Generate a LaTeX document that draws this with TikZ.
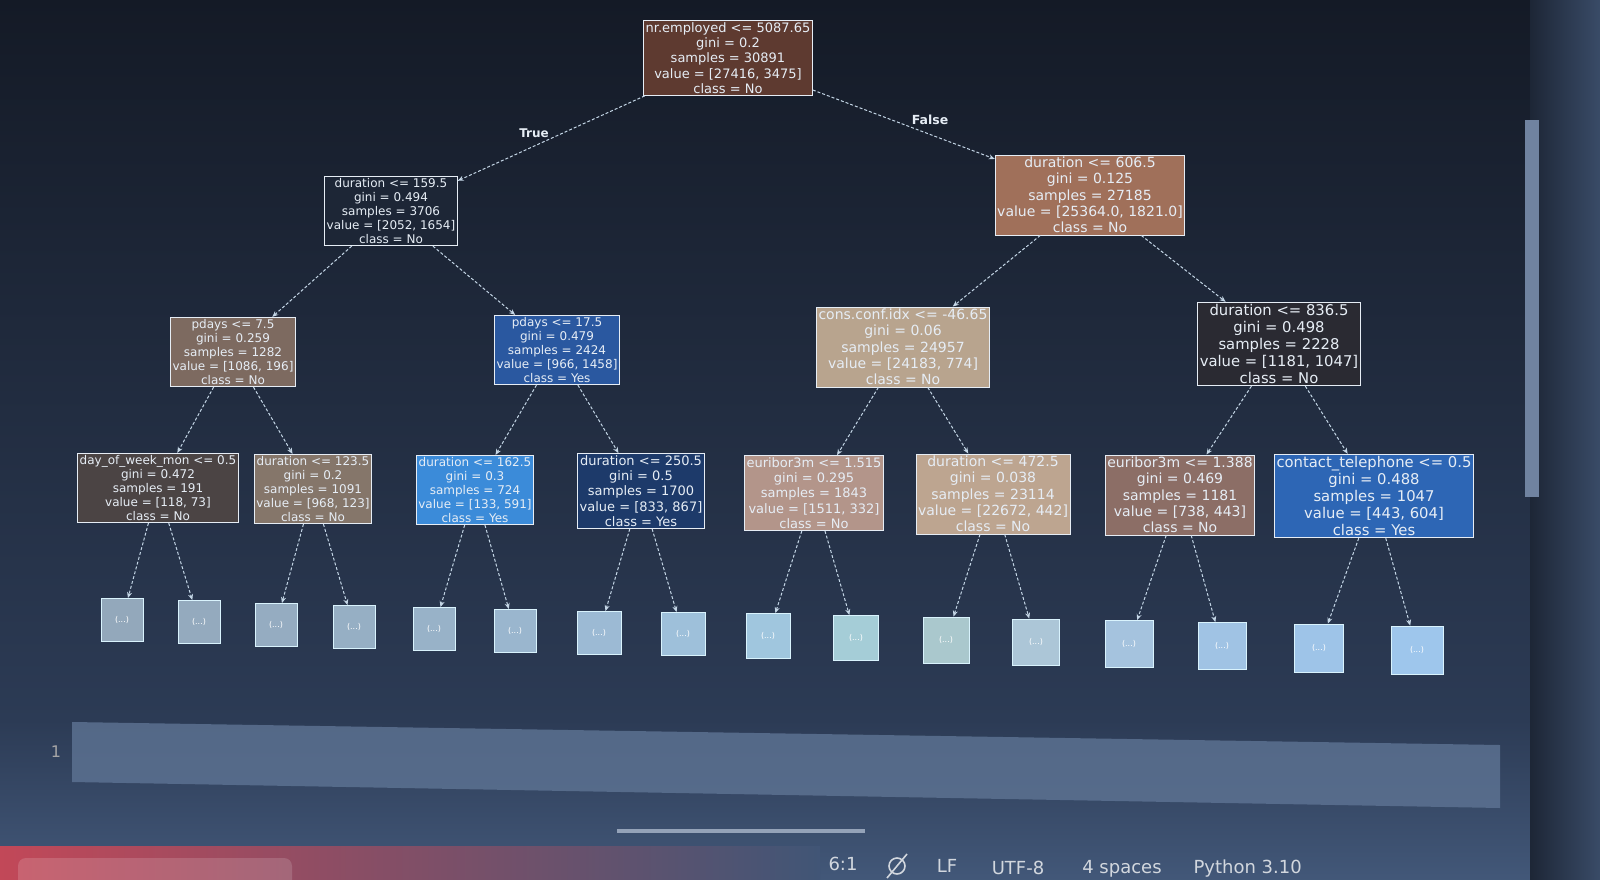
\documentclass[tikz,border=0pt]{standalone}
\usepackage{fontspec}
\setmainfont{DejaVu Sans}
\usetikzlibrary{arrows.meta}

\definecolor{bgtop}{HTML}{141A26}
\definecolor{bgmid}{HTML}{1D2636}
\definecolor{bglow}{HTML}{2C3B55}
\definecolor{celbg}{HTML}{4C6488}
\definecolor{txt}{HTML}{E6EDF5}
\definecolor{edgec}{HTML}{C4D6E6}
\definecolor{taskred}{HTML}{C24858}

\begin{document}
\begin{tikzpicture}[x=1pt, y=-1pt]

\tikzstyle{split} = [rectangle, draw=txt, line width=0.9pt, text=txt, align=center, inner sep=2pt,
  font=\fontsize{12}{14}\selectfont]
\tikzstyle{big} = [font=\fontsize{13}{15.2}\selectfont]
\tikzstyle{bigger} = [font=\fontsize{14}{16.3}\selectfont]
\tikzstyle{biggest} = [font=\fontsize{14.8}{17}\selectfont]
\tikzstyle{leaf} = [rectangle, draw=white!85!cyan, line width=0.8pt, minimum width=42pt, minimum height=43pt,
  text=white, font=\fontsize{8}{9}\selectfont]
\tikzstyle{edge} = [edgec, densely dashed, line width=1pt, -{Stealth[length=6pt, width=5pt]}]
\tikzstyle{bar} = [text=txt!80!gray, font=\fontsize{18}{20}\selectfont]

% screen
\useasboundingbox (0,0) rectangle (1600,880);
\shade[top color=bgtop, bottom color=bglow] (0,0) rectangle (1600,720);
\shade[top color=bglow, bottom color=celbg!70!bglow] (0,720) rectangle (1600,880);
\shade[left color=bgmid, right color=celbg!60!bgmid] (1530,0) rectangle (1600,880);
\fill[celbg!90!white, opacity=0.8] (72,722) -- (1500,745) -- (1500,808) -- (72,782) -- cycle;
\fill[celbg!80!white] (1525,120) rectangle (1539,497);
\fill[celbg!60!white] (617,829) rectangle (865,833);
\shade[left color=taskred, right color=celbg!64!bglow] (0,846) rectangle (820,880);
\fill[white, opacity=0.15, rounded corners=8pt] (18,858) rectangle (292,890);
\node[text=gray!70, font=\fontsize{16}{18}\selectfont] (ln) at (56,752) {1};

% tree
\node[split, big, fill={rgb,255:red,94;green,58;blue,48}] (root) at (728,58)
  {nr.employed <= 5087.65\\gini = 0.2\\samples = 30891\\value = [27416, 3475]\\class = No};

\node[split, fill=bgmid] (l) at (391,211)
  {duration <= 159.5\\gini = 0.494\\samples = 3706\\value = [2052, 1654]\\class = No};
\node[split, bigger, fill={rgb,255:red,160;green,112;blue,90}] (r) at (1090,195)
  {duration <= 606.5\\gini = 0.125\\samples = 27185\\value = [25364.0, 1821.0]\\class = No};

\node[split, fill={rgb,255:red,125;green,106;blue,96}] (ll) at (233,352)
  {pdays <= 7.5\\gini = 0.259\\samples = 1282\\value = [1086, 196]\\class = No};
\node[split, fill={rgb,255:red,42;green,88;blue,160}] (lr) at (557,350)
  {pdays <= 17.5\\gini = 0.479\\samples = 2424\\value = [966, 1458]\\class = Yes};
\node[split, bigger, fill={rgb,255:red,184;green,164;blue,142}] (rl) at (903,347)
  {cons.conf.idx <= -46.65\\gini = 0.06\\samples = 24957\\value = [24183, 774]\\class = No};
\node[split, biggest, fill={rgb,255:red,42;green,42;blue,50}] (rr) at (1279,344)
  {duration <= 836.5\\gini = 0.498\\samples = 2228\\value = [1181, 1047]\\class = No};

\node[split, fill={rgb,255:red,75;green,68;blue,68}] (lll) at (158,488)
  {day\_of\_week\_mon <= 0.5\\gini = 0.472\\samples = 191\\value = [118, 73]\\class = No};
\node[split, fill={rgb,255:red,133;green,118;blue,106}] (llr) at (313,489)
  {duration <= 123.5\\gini = 0.2\\samples = 1091\\value = [968, 123]\\class = No};
\node[split, fill={rgb,255:red,59;green,139;blue,217}] (lrl) at (475,490)
  {duration <= 162.5\\gini = 0.3\\samples = 724\\value = [133, 591]\\class = Yes};
\node[split, big, fill={rgb,255:red,29;green,58;blue,106}] (lrr) at (641,491)
  {duration <= 250.5\\gini = 0.5\\samples = 1700\\value = [833, 867]\\class = Yes};
\node[split, big, fill={rgb,255:red,179;green,149;blue,138}] (rll) at (814,493)
  {euribor3m <= 1.515\\gini = 0.295\\samples = 1843\\value = [1511, 332]\\class = No};
\node[split, bigger, fill={rgb,255:red,189;green,165;blue,144}] (rlr) at (993,494)
  {duration <= 472.5\\gini = 0.038\\samples = 23114\\value = [22672, 442]\\class = No};
\node[split, bigger, fill={rgb,255:red,140;green,110;blue,102}] (rrl) at (1180,495)
  {euribor3m <= 1.388\\gini = 0.469\\samples = 1181\\value = [738, 443]\\class = No};
\node[split, biggest, fill={rgb,255:red,45;green,102;blue,181}] (rrr) at (1374,496)
  {contact\_telephone <= 0.5\\gini = 0.488\\samples = 1047\\value = [443, 604]\\class = Yes};

% cut off branches
\node[leaf, fill={rgb,255:red,147;green,168;blue,187}] (a1) at (122,620) {(...)};
\node[leaf, fill={rgb,255:red,148;green,170;blue,190}] (a2) at (199,622) {(...)};
\node[leaf, fill={rgb,255:red,149;green,172;blue,193}] (a3) at (276,625) {(...)};
\node[leaf, fill={rgb,255:red,150;green,175;blue,196}] (a4) at (354,627) {(...)};
\node[leaf, fill={rgb,255:red,152;green,178;blue,200}] (a5) at (434,629) {(...)};
\node[leaf, fill={rgb,255:red,154;green,182;blue,206}] (a6) at (515,631) {(...)};
\node[leaf, minimum width=44pt, fill={rgb,255:red,156;green,186;blue,212}] (a7) at (599,633) {(...)};
\node[leaf, minimum width=44pt, fill={rgb,255:red,158;green,192;blue,218}] (a8) at (683,634) {(...)};
\node[leaf, minimum width=44pt, minimum height=45pt, fill={rgb,255:red,160;green,198;blue,222}] (a9) at (768,636) {(...)};
\node[leaf, minimum width=45pt, minimum height=45pt, fill={rgb,255:red,165;green,205;blue,215}] (a10) at (856,638) {(...)};
\node[leaf, minimum width=46pt, minimum height=46pt, fill={rgb,255:red,170;green,200;blue,205}] (a11) at (946,640) {(...)};
\node[leaf, minimum width=47pt, minimum height=46pt, fill={rgb,255:red,172;green,198;blue,215}] (a12) at (1036,642) {(...)};
\node[leaf, minimum width=48pt, minimum height=47pt, fill={rgb,255:red,165;green,195;blue,222}] (a13) at (1129,644) {(...)};
\node[leaf, minimum width=48pt, minimum height=47pt, fill={rgb,255:red,160;green,195;blue,228}] (a14) at (1222,646) {(...)};
\node[leaf, minimum width=49pt, minimum height=48pt, fill={rgb,255:red,158;green,196;blue,232}] (a15) at (1319,648) {(...)};
\node[leaf, minimum width=52pt, minimum height=48pt, fill={rgb,255:red,158;green,198;blue,236}] (a16) at (1417,650) {(...)};

\node[text=txt, font=\bfseries\fontsize{12}{14}\selectfont] (t) at (534,133) {True};
\node[text=txt, font=\bfseries\fontsize{12.5}{14}\selectfont] (f) at (930,120) {False};

\draw[edge] (root) -- (l);
\draw[edge] (root) -- (r);
\draw[edge] (l) -- (ll);
\draw[edge] (l) -- (lr);
\draw[edge] (r) -- (rl);
\draw[edge] (r) -- (rr);

\draw[edge] (ll) -- (lll);
\draw[edge] (ll) -- (llr);
\draw[edge] (lr) -- (lrl);
\draw[edge] (lr) -- (lrr);
\draw[edge] (rl) -- (rll);
\draw[edge] (rl) -- (rlr);
\draw[edge] (rr) -- (rrl);
\draw[edge] (rr) -- (rrr);

\draw[edge] (lll) -- (a1);
\draw[edge] (lll) -- (a2);
\draw[edge] (llr) -- (a3);
\draw[edge] (llr) -- (a4);
\draw[edge] (lrl) -- (a5);
\draw[edge] (lrl) -- (a6);
\draw[edge] (lrr) -- (a7);
\draw[edge] (lrr) -- (a8);
\draw[edge] (rll) -- (a9);
\draw[edge] (rll) -- (a10);
\draw[edge] (rlr) -- (a11);
\draw[edge] (rlr) -- (a12);
\draw[edge] (rrl) -- (a13);
\draw[edge] (rrl) -- (a14);
\draw[edge] (rrr) -- (a15);
\draw[edge] (rrr) -- (a16);

% status bar
\node[bar] (pos) at (843,864) {6:1};
\draw[txt!80!gray, line width=1.6pt] (897,866) circle (8);
\draw[txt!80!gray, line width=1.6pt] (887,878) -- (907,854);
\node[bar] (eol) at (947,866) {LF};
\node[bar] (enc) at (1018,868) {UTF-8};
\node[bar] (ind) at (1122,869) {4 spaces};
\node[bar, anchor=west] (lang) at (1190,869) {Python 3.10};

\end{tikzpicture}
\end{document}
